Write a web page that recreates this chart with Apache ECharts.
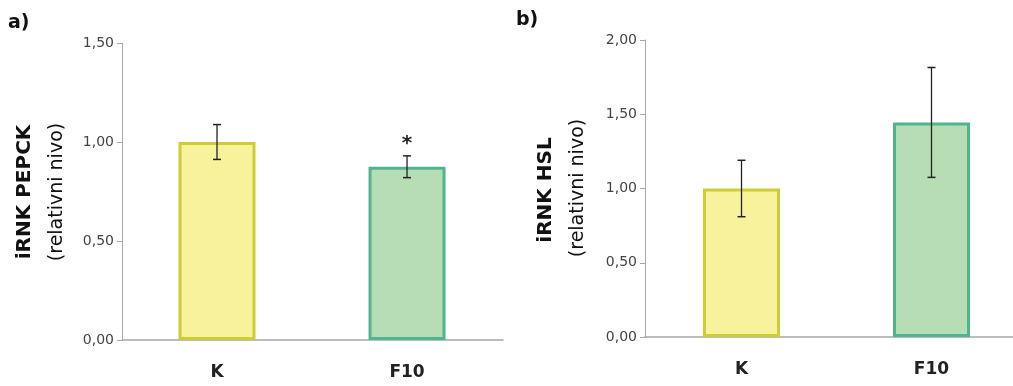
<!DOCTYPE html>
<html><head><meta charset="utf-8">
<script src="https://cdn.jsdelivr.net/npm/echarts@6/dist/echarts.min.js"></script>
<style>html,body{margin:0;padding:0;background:#fff}#c{width:1013px;height:386px}</style>
</head><body><div id="c"></div>
<script>
const categories = ['K', 'F10'];
const pepckValues = [1.00, 0.875];
const pepckErrors = [0.088, 0.055];
const pepckSignif = ['', '*'];
const hslValues = [1.00, 1.445];
const hslErrors = [0.19, 0.37];
const hslSignif = ['', ''];
const pepckTicks = {min: 0, max: 1.5, interval: 0.5};
const hslTicks = {min: 0, max: 2.0, interval: 0.5};
const panelLabels = ['a)', 'b)'];
const yTitles = ['iRNK PEPCK', 'iRNK HSL'];
const ySub = '(relativni nivo)';

const fills = [
  {color: '#f8f29c', borderColor: '#cdcd35'},
  {color: '#b6ddb3', borderColor: '#4fb58f'}
];

function barData(vals) {
  return vals.map((v, i) => ({value: [i, v], itemStyle: {color: fills[i].color, borderColor: fills[i].borderColor, borderWidth: 3}}));
}
function errData(vals, errs, sig) {
  return vals.map((v, i) => [i, v, errs[i], sig[i]]);
}
function renderErr(params, api) {
  const x = api.value(0), v = api.value(1), e = api.value(2);
  const sig = api.value(3);
  const top = api.coord([x, v + e]);
  const bot = api.coord([x, v - e]);
  const cap = 4;
  const children = [
    {type: 'line', shape: {x1: top[0], y1: top[1], x2: bot[0], y2: bot[1]}, style: {stroke: '#222', lineWidth: 1.3}},
    {type: 'line', shape: {x1: top[0]-cap, y1: top[1], x2: top[0]+cap, y2: top[1]}, style: {stroke: '#222', lineWidth: 1.5}},
    {type: 'line', shape: {x1: bot[0]-cap, y1: bot[1], x2: bot[0]+cap, y2: bot[1]}, style: {stroke: '#222', lineWidth: 1.5}}
  ];
  if (sig) {
    children.push({type: 'text', style: {text: sig, x: top[0], y: top[1] - 12, align: 'center', verticalAlign: 'middle', font: 'bold 20px "DejaVu Sans"', fill: '#222'}});
  }
  return {type: 'group', children};
}

const yAxisCommon = {
  type: 'value',
  axisLine: {show: true, onZero: false, lineStyle: {color: '#a8a8a8', width: 1}},
  axisTick: {show: true, length: 5, lineStyle: {color: '#a8a8a8'}},
  splitLine: {show: false},
  axisLabel: {color: '#444', fontSize: 14, fontFamily: 'DejaVu Sans', margin: 8,
    formatter: v => v.toFixed(2).replace('.', ',')}
};
const xAxisCommon = {
  type: 'value',
  splitLine: {show: false},
  axisLine: {show: true, onZero: false, lineStyle: {color: '#a8a8a8', width: 1.5}},
  axisTick: {show: false},
  axisLabel: {color: '#222', fontSize: 17, fontWeight: 'bold', fontFamily: 'DejaVu Sans', margin: 24,
    customValues: [0, 1], formatter: v => categories[Math.round(v)]}
};

const chart = echarts.init(document.getElementById('c'), null, {renderer: 'canvas'});
chart.setOption({
  animation: false,
  backgroundColor: '#fff',
  grid: [
    {left: 122, top: 43, width: 381, height: 297},
    {left: 645, top: 40, width: 368, height: 297}
  ],
  xAxis: [
    Object.assign({gridIndex: 0, min: -0.5, max: 1.505}, xAxisCommon),
    Object.assign({gridIndex: 1, min: -0.508, max: 1.429}, xAxisCommon)
  ],
  yAxis: [
    Object.assign({gridIndex: 0}, yAxisCommon, pepckTicks),
    Object.assign({gridIndex: 1}, yAxisCommon, hslTicks)
  ],
  series: [
    {type: 'bar', xAxisIndex: 0, yAxisIndex: 0, data: barData(pepckValues), barWidth: 77},
    {type: 'custom', xAxisIndex: 0, yAxisIndex: 0, data: errData(pepckValues, pepckErrors, pepckSignif), renderItem: renderErr, z: 5},
    {type: 'bar', xAxisIndex: 1, yAxisIndex: 1, data: barData(hslValues), barWidth: 77},
    {type: 'custom', xAxisIndex: 1, yAxisIndex: 1, data: errData(hslValues, hslErrors, hslSignif), renderItem: renderErr, z: 5}
  ],
  graphic: [
    {type: 'text', left: 8, top: 14, style: {text: panelLabels[0], font: 'bold 19px "DejaVu Sans"', fill: '#111'}},
    {type: 'text', left: 516, top: 11, style: {text: panelLabels[1], font: 'bold 19px "DejaVu Sans"', fill: '#111'}},
    {type: 'text', x: 25, y: 192, rotation: Math.PI/2, style: {text: yTitles[0], font: 'bold 20px "DejaVu Sans"', fill: '#111', align: 'center', verticalAlign: 'middle'}},
    {type: 'text', x: 57, y: 192, rotation: Math.PI/2, style: {text: ySub, font: '19px "DejaVu Sans"', fill: '#111', align: 'center', verticalAlign: 'middle'}},
    {type: 'text', x: 546, y: 190, rotation: Math.PI/2, style: {text: yTitles[1], font: 'bold 20px "DejaVu Sans"', fill: '#111', align: 'center', verticalAlign: 'middle'}},
    {type: 'text', x: 578, y: 188, rotation: Math.PI/2, style: {text: ySub, font: '19px "DejaVu Sans"', fill: '#111', align: 'center', verticalAlign: 'middle'}}
  ]
});
</script></body></html>
